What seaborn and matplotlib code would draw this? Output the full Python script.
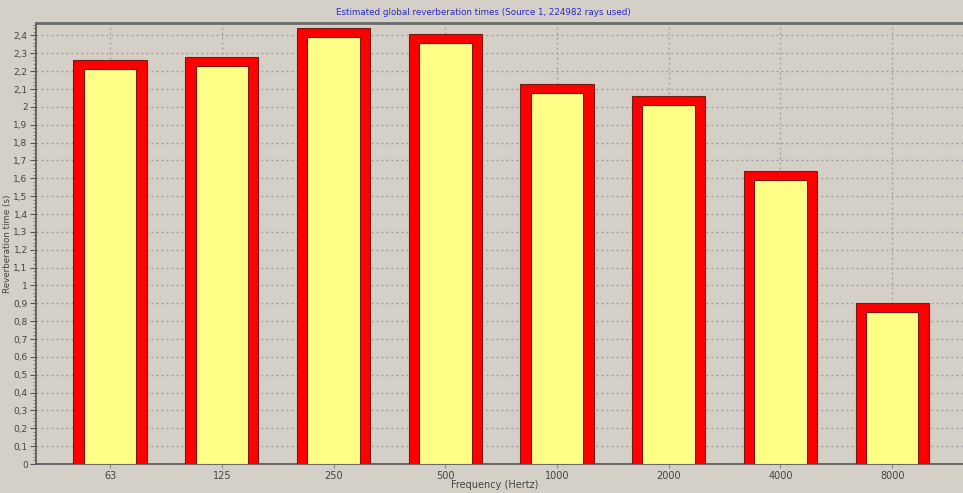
"""Estimated global reverberation times per octave band."""
import matplotlib
matplotlib.use("Agg")
import matplotlib.pyplot as plt
import matplotlib.ticker as mticker
import pandas as pd
import seaborn as sns

frequencies = ["63", "125", "250", "500", "1000", "2000", "4000", "8000"]
rt_values = [2.26, 2.28, 2.44, 2.41, 2.13, 2.06, 1.64, 0.90]
# depth of the red frame on top of each bar, in seconds
frame_depth = 0.05

df = pd.DataFrame({"freq": frequencies, "rt": rt_values})
df["inner"] = df["rt"] - frame_depth

BG = "#D4D0C8"
sns.set_style("white")
plt.rcParams["font.family"] = ["DejaVu Sans"]

fig = plt.figure(figsize=(9.63, 4.93), dpi=100, facecolor=BG)
ax = fig.add_axes([36 / 963, 1 - 464 / 493, 1 - 36 / 963 + 0.01, (464 - 23) / 493])
ax.set_facecolor(BG)

sns.barplot(data=df, x="freq", y="rt", color="#FF0000", width=0.655,
            saturation=1, edgecolor="#7A1A10", linewidth=0.8, ax=ax, zorder=3)
sns.barplot(data=df, x="freq", y="inner", color="#FFFF88", width=0.47,
            saturation=1, edgecolor="#7A1A10", linewidth=0.8, ax=ax, zorder=4)

ax.set_xlim(-0.663, 7.72)
ax.set_ylim(0, 2.47)
ax.yaxis.set_major_locator(mticker.MultipleLocator(0.1))
ax.yaxis.set_minor_locator(mticker.MultipleLocator(0.02))
ax.yaxis.set_major_formatter(mticker.FuncFormatter(
    lambda v, _: f"{v:.1f}".rstrip("0").rstrip(".").replace(".", ",")))

ax.grid(True, which="major", color="#9A9A9A", linestyle=(0, (1.5, 2.5)), linewidth=0.9, zorder=1)
ax.set_axisbelow(True)

ax.tick_params(axis="y", which="major", direction="out", length=4, width=0.8,
               color="#555555", labelsize=6.5, labelcolor="#444444", pad=2, left=True)
ax.tick_params(axis="y", which="minor", direction="out", length=2, width=0.6,
               color="#777777", left=True)
ax.tick_params(axis="x", direction="out", length=3, width=0.8, color="#888888",
               labelsize=7, labelcolor="#444444", pad=2, bottom=True)

for side in ["left", "bottom"]:
    ax.spines[side].set_color("#555555")
    ax.spines[side].set_linewidth(1.2)
ax.spines["top"].set_color("#6A6A6A")
ax.spines["top"].set_linewidth(2)
ax.spines["right"].set_visible(False)

ax.set_xlabel("Frequency (Hertz)", fontsize=7, color="#444444")
ax.xaxis.set_label_coords(0.49, -0.037)
ax.set_ylabel("Reverberation time (s)", fontsize=6.3, color="#444444")
ax.yaxis.set_label_coords(-0.026, 0.5)

fig.text(0.502, 0.975, "Estimated global reverberation times (Source 1, 224982 rays used)",
         ha="center", va="center", fontsize=6.3, color="#2A2AC8")

plt.savefig("out.png", dpi=100, facecolor=BG)
